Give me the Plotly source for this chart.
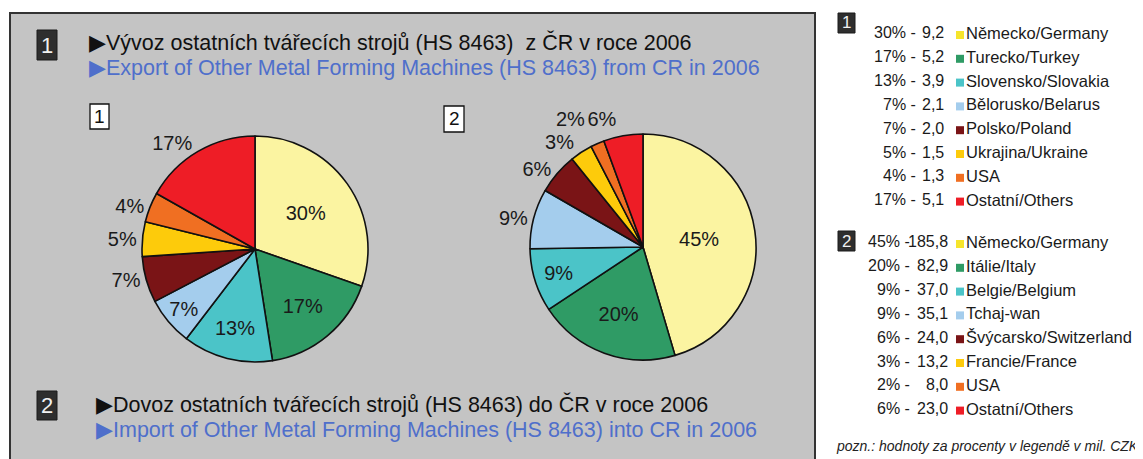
import plotly.graph_objects as go

W, H = 1143, 459
OFF = 8  # default page body margin of the html page

# ---------------- data ----------------
export_countries = ["Německo/Germany", "Turecko/Turkey", "Slovensko/Slovakia", "Bělorusko/Belarus",
                    "Polsko/Poland", "Ukrajina/Ukraine", "USA", "Ostatní/Others"]
export_values = [9.2, 5.2, 3.9, 2.1, 2.0, 1.5, 1.3, 5.1]

import_countries = ["Německo/Germany", "Itálie/Italy", "Belgie/Belgium", "Tchaj-wan",
                    "Švýcarsko/Switzerland", "Francie/France", "USA", "Ostatní/Others"]
import_values = [185.8, 82.9, 37.0, 35.1, 24.0, 13.2, 8.0, 23.0]

export_title_cz = "▶Vývoz ostatních tvářecích strojů (HS 8463)  z ČR v roce 2006"
export_title_en = "▶Export of Other Metal Forming Machines (HS 8463) from CR in 2006"
import_title_cz = "▶Dovoz ostatních tvářecích strojů (HS 8463) do ČR v roce 2006"
import_title_en = "▶Import of Other Metal Forming Machines (HS 8463) into CR in 2006"
footnote = "pozn.: hodnoty za procenty v legendě v mil. CZK"

# ---------------- styles ----------------
pie_colors = ["#FBF4A1", "#2F9B65", "#4BC4C8", "#A4CDED", "#7A1416", "#FDCB0B", "#F06F22", "#EE1D26"]
legend_colors = ["#F6E52C"] + pie_colors[1:]
PIE_R = 113
# label layers: (text positions, label radius); the first layer draws the visible slices,
# extra transparent layers only carry single outside labels so they are not pushed onto each other
export_label_layers = [(["inside"] * 4 + ["outside"] * 4, PIE_R)]
import_label_layers = [
    (["inside", "inside", "inside", "outside", "outside", "none", "none", "none"], PIE_R),
    (["none", "none", "none", "none", "none", "outside", "none", "none"], 116),
    (["none", "none", "none", "none", "none", "none", "outside", "none"], 130),
    (["none", "none", "none", "none", "none", "none", "none", "outside"], 119),
]

SANS = "Liberation Sans, Arial, sans-serif"
BLUE = "#4F6FCB"
TXT = "#1a1a1a"

FW, FH = W - OFF, H - OFF


def px(x):
    return (x - OFF) / FW


def py(y):
    return 1 - (y - OFF) / FH


def pie_domain(cx, cy, r):
    return dict(x=[px(cx - r), px(cx + r)], y=[py(cy + r), py(cy - r)])


fig = go.Figure()

for vals, labs, layers, (cx, cy) in [
    (export_values, export_countries, export_label_layers, (255, 249)),
    (import_values, import_countries, import_label_layers, (643, 247)),
]:
    for k, (tpos, r) in enumerate(layers):
        first = k == 0
        fig.add_trace(go.Pie(
            values=vals, labels=labs, sort=False, direction="clockwise", rotation=0,
            marker=dict(colors=pie_colors if first else ["rgba(0,0,0,0)"] * len(vals),
                        line=dict(color="#111111", width=1.6 if first else 0)),
            textposition=tpos, texttemplate="%{percent:.0%}",
            textfont=dict(family=SANS, size=20, color=TXT),
            insidetextorientation="horizontal",
            domain=pie_domain(cx, cy, r), showlegend=False,
            hoverinfo="label+value+percent" if first else "skip",
        ))

shapes = []
annotations = []

# grey panel
shapes.append(dict(type="rect", xref="paper", yref="paper", x0=px(10), x1=px(815), y0=py(480), y1=py(13),
                   fillcolor="#C4C4C4", line=dict(color="#333333", width=2), layer="below"))


def dark_box(x0, y0, x1, y1, label, size=22):
    shapes.append(dict(type="rect", xref="paper", yref="paper", x0=px(x0), x1=px(x1), y0=py(y1), y1=py(y0),
                       fillcolor="#2E2E2E", line=dict(color="#1a1a1a", width=1), layer="above"))
    annotations.append(dict(x=px((x0 + x1) / 2), y=py((y0 + y1) / 2), xref="paper", yref="paper",
                            text=label, showarrow=False, xanchor="center", yanchor="middle",
                            font=dict(family=SANS, size=size, color="#F0F0F0")))


def white_box(x0, y0, x1, y1, label):
    shapes.append(dict(type="rect", xref="paper", yref="paper", x0=px(x0), x1=px(x1), y0=py(y1), y1=py(y0),
                       fillcolor="white", line=dict(color="#111111", width=1.3), layer="above"))
    annotations.append(dict(x=px((x0 + x1) / 2), y=py((y0 + y1) / 2), xref="paper", yref="paper",
                            text=label, showarrow=False, xanchor="center", yanchor="middle",
                            font=dict(family=SANS, size=19, color="#111111")))


def text(x, y, s, size, color=TXT, anchor="left"):
    annotations.append(dict(x=px(x), y=py(y), xref="paper", yref="paper", text=s, showarrow=False,
                            xanchor=anchor, yanchor="middle", font=dict(family=SANS, size=size, color=color)))


# headings
dark_box(37, 30, 57, 60, "1")
text(87, 42, export_title_cz, 21.5, "#111111")
text(87, 68, export_title_en, 21.5, BLUE)

dark_box(37, 391, 57, 420, "2")
text(94, 404, import_title_cz, 21.5, "#111111")
text(94, 430, import_title_en, 21.5, BLUE)

white_box(90, 104, 109, 129, "1")
white_box(444, 106, 464, 132, "2")

# legends
for num, vals, labs, y0, dash_right, val_right, box_y in [
    ("1", export_values, export_countries, 33, 918, 946, 13),
    ("2", import_values, import_countries, 242, 912, 950, 231),
]:
    total = sum(vals)
    dark_box(838, box_y, 855, box_y + 20, num, size=17)
    for i, (v, lab) in enumerate(zip(vals, labs)):
        y = y0 + 23.8 * i
        pct = round(v / total * 100)
        text(dash_right, y, f"{pct}% -", 16, TXT, "right")
        text(val_right, y, f"{v:.1f}".replace(".", ","), 16, TXT, "right")
        sx = 956
        shapes.append(dict(type="rect", xref="paper", yref="paper", x0=px(sx), x1=px(sx + 8),
                           y0=py(y + 6), y1=py(y - 2), fillcolor=legend_colors[i], line=dict(width=0)))
        text(sx + 8, y, lab, 16.5, TXT, "left")

annotations.append(dict(x=px(834), y=py(446), xref="paper", yref="paper", text=f"<i>{footnote}</i>",
                        showarrow=False, xanchor="left", yanchor="middle",
                        font=dict(family=SANS, size=14, color="#222222")))

fig.update_layout(
    width=FW, height=FH, margin=dict(l=0, r=0, t=0, b=0),
    paper_bgcolor="white", plot_bgcolor="white",
    shapes=shapes, annotations=annotations,
)

fig.write_html("out.html")
